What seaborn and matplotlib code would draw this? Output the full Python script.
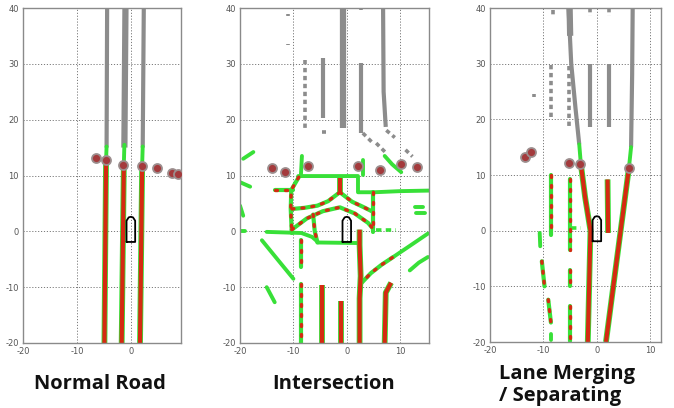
import matplotlib
matplotlib.use("Agg")
import matplotlib.pyplot as plt
import pandas as pd
import seaborn as sns

# ---------------- data (metres, vehicle frame) ----------------
panel_titles = ["Normal Road", "Intersection", "Lane Merging\n/ Separating"]
y_tick_values = [-20, -10, 0, 10, 20, 30, 40]
x_tick_values = [[-20, -10, 0], [-20, -10, 0, 10], [-20, -10, 0, 10]]

ego_x = [-0.8, -0.8, -0.4, 0.0, 0.4, 0.8, 0.8, -0.8]
ego_y = [-1.9, 1.9, 2.5, 2.6, 2.5, 1.9, -1.9, -1.9]

# --- Normal road ---
normal_gray = [[(-4.4, 40), (-4.5, 15)], [(2.4, 40), (2.2, 15)]]
normal_gray_wide = [[(-1.0, 40), (-1.2, 15)]]
normal_green = [[(-4.5, 15.2), (-4.6, 12.6)], [(-1.2, 15.5), (-1.3, 12.0)], [(2.2, 15.2), (2.1, 12.0)]]
normal_red = [[(-4.6, 12.6), (-4.9, -20)], [(-1.3, 12.0), (-1.7, -20)], [(2.1, 12.0), (1.7, -20)]]
normal_reddot = []
normal_gray_sparse = []
normal_circle_x = [-6.5, -4.7, -1.5, 2.0, 4.8, 7.7, 8.8]
normal_circle_y = [13.2, 12.7, 11.8, 11.7, 11.3, 10.4, 10.2]

# --- Intersection ---
inter_gray = [[(-4.5, 31.0), (-4.5, 20.3)], [(2.7, 30.1), (2.7, 17.6)],
              [(6.8, 40), (6.9, 25), (7.3, 18.7)]]
inter_gray_wide = [[(-0.7, 40), (-0.7, 18.5)]]
inter_gray_sparse = [[(-7.85, 30.7), (-7.85, 18.5)], [(-4.7, 17.8), (-3.8, 17.8)],
                     [(7.4, 18.1), (9.0, 16.8)], [(3.0, 17.6), (4.9, 15.8)],
                     [(5.5, 15.8), (7.4, 14.0)], [(11.0, 14.6), (12.3, 13.4)],
                     [(-11.0, 38.9), (-11.0, 38.6)], [(-11.0, 33.6), (-11.0, 33.3)],
                     [(2.7, 40), (2.7, 39.6)]]
inter_green = [[(-9.1, 9.9), (2.1, 9.9), (2.1, 7.0), (5.2, 7.0), (10.0, 7.2), (15.5, 7.3)],
               [(-8.4, 13.5), (-8.6, 9.9)],
               [(-15.0, -0.1), (-8.5, -0.3), (-6.5, -1.0), (-5.3, -2.0), (2.5, -2.1)],
               [(-19.4, 13.0), (-17.5, 14.2)], [(-20, 8.8), (-18.1, 8.0)],
               [(-20, 4.6), (-19.4, 2.8)], [(-20, 0.1), (-19.0, 0.1)],
               [(-15.9, -1.6), (-13.0, -5.0), (-10.0, -8.5)], [(-15.0, -10.0), (-13.5, -12.7)],
               [(7.1, 13.5), (8.5, 12.0), (10.2, 10.6)], [(3.0, 12.7), (3.0, 10.1)],
               [(12.7, 4.3), (14.2, 4.3)], [(12.9, 3.2), (14.6, 3.2)],
               [(8.7, -4.6), (11.5, -2.8), (15.2, -0.4)],
               [(11.8, -7.0), (13.5, -5.6), (15.2, -4.6)]]
inter_green_dash = [[(5.5, 0.2), (9.3, 0.2)]]
inter_reddot = [[(-13.5, 7.4), (-10.0, 7.4)],
                [(-9.0, 9.7), (-10.4, 7.4), (-10.5, 4.0), (-10.3, -0.3)],
                [(4.9, 7.0), (4.9, -0.1)],
                [(-1.3, 7.0), (-3.5, 5.4), (-5.5, 4.6), (-8.0, 4.2), (-10.4, 4.0)],
                [(-1.3, 7.0), (1.0, 5.3), (3.0, 4.4), (4.9, 3.5)],
                [(-10.3, 0.3), (-7.5, 2.3), (-4.5, 3.6), (-1.3, 4.3), (1.5, 3.2), (4.0, 1.5), (4.9, 0.5)],
                [(-6.3, 3.0), (-6.0, 0.0), (-5.5, -2.0)],
                [(2.5, -9.5), (4.5, -7.5), (6.5, -6.0), (8.7, -4.6)],
                [(-8.5, -1.6), (-8.5, -6.4)], [(-8.5, -9.4), (-8.5, -20)]]
inter_red = [[(-1.3, 9.6), (-1.3, 7.0)],
             [(-4.7, -9.7), (-4.7, -20)], [(-1.0, -12.4), (-1.0, -20)],
             [(2.4, 0.3), (2.4, -2.5), (2.6, -8.0), (2.4, -12.0), (2.4, -20)],
             [(8.3, -9.2), (7.3, -11.0), (7.1, -20)]]
inter_circle_x = [-14.1, -11.6, -7.2, 2.1, 6.3, 10.2, 13.2]
inter_circle_y = [11.4, 10.7, 11.7, 11.7, 11.0, 12.1, 11.5]

# --- Lane merging / separating ---
merge_gray = [[(-5.3, 40), (-4.8, 30), (-4.0, 22), (-3.3, 15.5)],
              [(6.7, 40), (6.6, 28), (6.4, 15.0)],
              [(-1.2, 30), (-1.2, 18.7)], [(2.2, 30), (2.2, 18.7)]]
merge_gray_wide = [[(-5.1, 40), (-5.0, 35)]]
merge_gray_sparse = [[(-8.5, 29.8), (-8.5, 19.9)], [(-5.3, 29.5), (-5.3, 18.7)],
                     [(-8.3, 39.7), (-8.3, 38.8)], [(-1.2, 40), (-1.2, 38.5)],
                     [(2.3, 40), (2.3, 38.5)], [(-11.8, 24.5), (-11.8, 24.1)]]
merge_green = [[(-3.3, 15.5), (-3.0, 12.0)], [(6.4, 15.0), (6.0, 11.3)],
               [(-10.7, -0.4), (-10.6, -2.8)], [(-8.6, -18.5), (-8.6, -19.6)]]
merge_green_dash = [[(-4.8, 0.5), (-3.0, 0.5)]]
merge_reddot = [[(-8.5, 10.0), (-8.5, -0.7)],
                [(-5.1, 9.2), (-5.1, -3.4)], [(-5.1, -7.0), (-5.1, -10.0)], [(-5.1, -13.6), (-5.1, -19.9)],
                [(-10.3, -5.5), (-9.8, -10.0)], [(-9.1, -12.4), (-8.6, -16.5)]]
merge_red = [[(-3.0, 12.0), (-2.2, 6.0), (-1.2, 0.0), (-1.4, -8.0), (-1.7, -20)],
             [(6.0, 11.3), (1.7, -20)],
             [(2.0, 9.2), (2.1, -0.4)]]
merge_circle_x = [-13.5, -12.3, -5.3, -3.2, 6.0]
merge_circle_y = [13.3, 14.1, 12.2, 11.9, 11.3]

# ---------------- drawing ----------------
sns.set_style("white")
plt.rcParams["font.family"] = ["DejaVu Sans"]

GRAY = "#8c8c8c"
GREEN = "#38e038"
RED = "#d52a12"


def seg_frame(polylines):
    rows = [(i, x, y) for i, pl in enumerate(polylines) for (x, y) in pl]
    return pd.DataFrame(rows, columns=["seg", "x", "y"])


def draw(ax, polylines, **kw):
    if not polylines:
        return
    sns.lineplot(data=seg_frame(polylines), x="x", y="y", units="seg", estimator=None,
                 sort=False, ax=ax, legend=False, **kw)


fig = plt.figure(figsize=(6.74, 4.08), dpi=100)
W, H = 674.0, 408.0
boxes = [(23, 181, 8, 343), (240, 429, 8, 343), (490, 661, 8, 342)]
xlims = [(-20, 9.3), (-20, 15.4), (-20, 12.0)]

panels = [
    dict(gray=normal_gray, wide=normal_gray_wide, sparse=normal_gray_sparse, green=normal_green,
         gdash=[], reddot=normal_reddot, red=normal_red, cx=normal_circle_x, cy=normal_circle_y),
    dict(gray=inter_gray, wide=inter_gray_wide, sparse=inter_gray_sparse, green=inter_green,
         gdash=inter_green_dash, reddot=inter_reddot, red=inter_red, cx=inter_circle_x, cy=inter_circle_y),
    dict(gray=merge_gray, wide=merge_gray_wide, sparse=merge_gray_sparse, green=merge_green,
         gdash=merge_green_dash, reddot=merge_reddot, red=merge_red, cx=merge_circle_x, cy=merge_circle_y),
]

for i, (box, p) in enumerate(zip(boxes, panels)):
    l, r, t, b = box
    ax = fig.add_axes([l / W, 1 - b / H, (r - l) / W, (b - t) / H])

    draw(ax, p["gray"], color=GRAY, linewidth=3.0, solid_capstyle="butt")
    draw(ax, p["wide"], color=GRAY, linewidth=4.5, solid_capstyle="butt")
    draw(ax, p["sparse"], color=GRAY, linewidth=2.6, linestyle=(0, (1.2, 1.0)))
    draw(ax, p["green"], color=GREEN, linewidth=2.8, solid_capstyle="round")
    draw(ax, p["gdash"], color=GREEN, linewidth=2.6, linestyle=(0, (1.5, 1.2)))
    draw(ax, p["reddot"], color=GREEN, linewidth=3.0, solid_capstyle="round")
    draw(ax, p["reddot"], color=RED, linewidth=2.4, linestyle=(0, (0.6, 2.4)), dash_capstyle="round")
    draw(ax, p["red"], color=GREEN, linewidth=4.2, solid_capstyle="butt")
    draw(ax, p["red"], color=RED, linewidth=3.0, solid_capstyle="butt")
    sns.scatterplot(x=p["cx"], y=p["cy"], ax=ax, s=42, color="#a43a3c",
                    edgecolor="#9c8e8e", linewidth=1.3, zorder=5, legend=False)
    sns.lineplot(x=ego_x, y=ego_y, sort=False, estimator=None, ax=ax, color="black",
                 linewidth=1.3, legend=False)

    ax.set_xlim(*xlims[i])
    ax.set_ylim(-20, 40)
    ax.set_xticks(x_tick_values[i])
    ax.set_yticks(y_tick_values)
    ax.set_xticklabels([str(v) for v in x_tick_values[i]])
    ax.set_yticklabels([str(v) for v in y_tick_values])
    ax.tick_params(labelsize=6, length=0, pad=3, colors="#555555")
    ax.grid(True, linestyle=(0, (1.2, 1.8)), color="#7a7a7a", linewidth=0.7)
    ax.set_axisbelow(True)
    for s in ax.spines.values():
        s.set_color("#8a8a8a")
        s.set_linewidth(1.0)
    ax.set_xlabel("")
    ax.set_ylabel("")

title_font = dict(family=["Open Sans", "DejaVu Sans"], weight="bold", fontsize=14.5, color="#111111")
fig.text(100 / W, 1 - 384 / H, panel_titles[0], ha="center", va="center", **title_font)
fig.text(334 / W, 1 - 384 / H, panel_titles[1], ha="center", va="center", **title_font)
fig.text(499 / W, 1 - 385 / H, panel_titles[2], ha="left", va="center",
         multialignment="left", linespacing=1.15, **title_font)

fig.savefig("out.png", dpi=100)
